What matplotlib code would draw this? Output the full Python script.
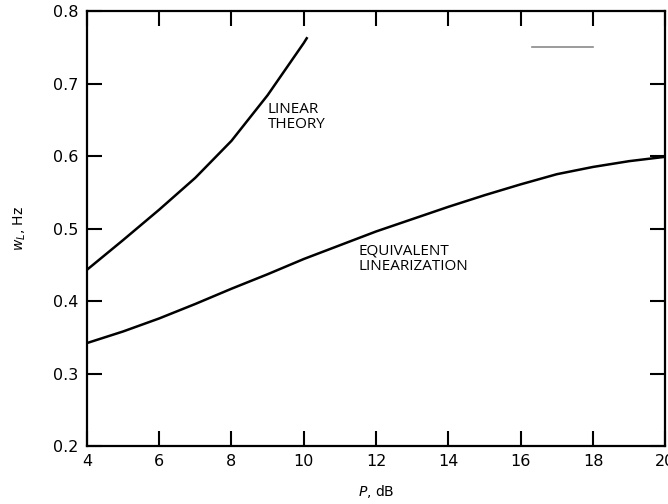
#!/usr/bin/env python3
""" natural frequency vs level, linear theory and equivalent linearization
"""
import numpy as np
import matplotlib.pyplot as plt

# values
lin_x = [4, 5, 6, 7, 8, 9, 10, 10.1]
lin_y = [0.443, 0.484, 0.526, 0.570, 0.621, 0.684, 0.756, 0.764]

eq_x = [4, 5, 6, 7, 8, 9, 10, 11, 12, 13, 14, 15, 16, 17, 18, 19, 20]
eq_y = [0.342, 0.358, 0.376, 0.396, 0.417, 0.437, 0.458, 0.477, 0.496, 0.513,
        0.530, 0.546, 0.561, 0.575, 0.585, 0.593, 0.599]

# faint stray mark near the top right of the original
mark_x = [16.3, 18.0]
mark_y = [0.750, 0.750]

xticks = [4, 6, 8, 10, 12, 14, 16, 18, 20]
yticks = [0.2, 0.3, 0.4, 0.5, 0.6, 0.7, 0.8]


def main():
    fig = plt.figure(figsize=(6.68, 5.04), dpi=100)
    ax = fig.add_axes([0.130, 0.115, 0.866, 0.863])

    ax.plot(lin_x, lin_y, color='black', lw=1.8, solid_capstyle='butt')
    ax.plot(eq_x, eq_y, color='black', lw=1.8, solid_capstyle='butt')
    ax.plot(mark_x, mark_y, color='#8a8a8a', lw=1.2)

    ax.text(9.0, 0.675, 'LINEAR\nTHEORY', fontsize=11, va='top', ha='left',
            linespacing=1.0, family='Open Sans')
    ax.text(11.5, 0.479, 'EQUIVALENT\nLINEARIZATION', fontsize=11, va='top',
            ha='left', linespacing=1.0, family='Open Sans')

    ax.set_xlim(4, 20)
    ax.set_ylim(0.2, 0.8)
    ax.set_xticks(xticks)
    ax.set_yticks(yticks)
    ax.set_xticklabels([str(t) for t in xticks])
    ax.set_yticklabels(['%.1f' % t for t in yticks])
    ax.tick_params(direction='in', length=11, width=1.5, top=True, right=True,
                   labelsize=11.5, pad=6)
    for s in ax.spines.values():
        s.set_linewidth(1.6)

    ax.set_xlabel(r'$P$, dB', fontsize=10, labelpad=10)
    ax.set_ylabel(r'$w_L$, Hz', fontsize=10, labelpad=18)

    fig.savefig('out.png', dpi=100)


if __name__ == '__main__':
    main()
